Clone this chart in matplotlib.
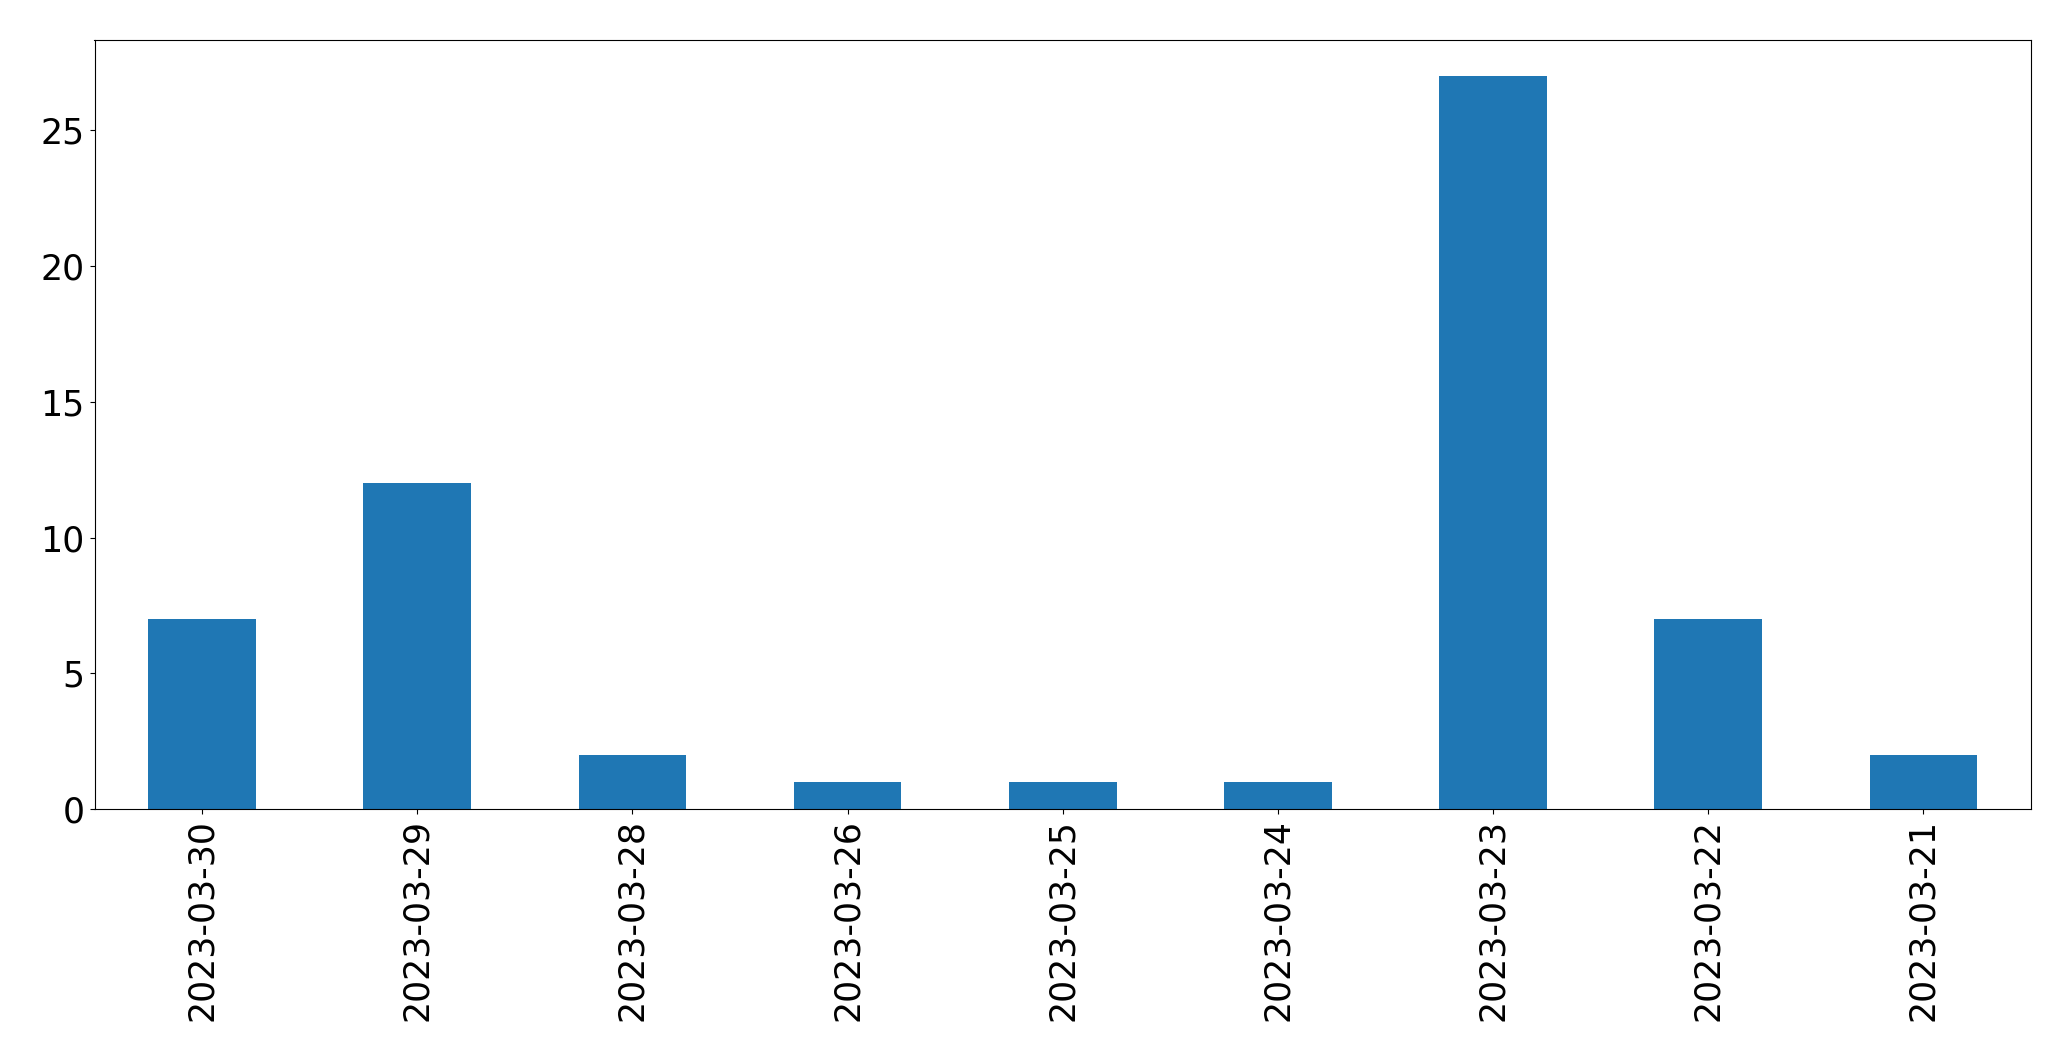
import matplotlib
matplotlib.use('Agg')
import numpy as np
import matplotlib.pyplot as plt

dates = ['2023-03-30', '2023-03-29', '2023-03-28', '2023-03-26', '2023-03-25',
         '2023-03-24', '2023-03-23', '2023-03-22', '2023-03-21']
counts = [7, 12, 2, 1, 1, 1, 27, 7, 2]


def main():
    fig = plt.figure(figsize=(20.71, 10.61), dpi=100)
    ax = fig.add_subplot(1, 1, 1)
    fig.subplots_adjust(left=94.5 / 2071, right=2031 / 2071,
                        top=1 - 39.5 / 1061, bottom=1 - 809 / 1061)

    x = np.arange(len(dates))
    ax.bar(x, counts, width=0.5, color='#1f77b4')
    ax.set_xlim(-0.5, len(dates) - 0.5)
    ax.set_xticks(x)
    ax.set_xticklabels(dates, rotation=90)
    ax.tick_params(axis='both', labelsize=25)

    fig.savefig('out.png', dpi=100)


if __name__ == '__main__':
    main()
